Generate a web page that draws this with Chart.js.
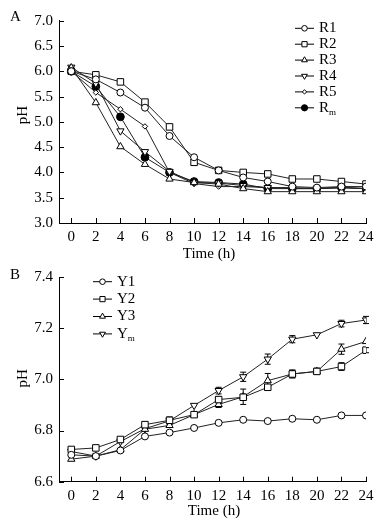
<!DOCTYPE html>
<html><head><meta charset="utf-8">
<script src="https://cdn.jsdelivr.net/npm/chart.js@4/dist/chart.umd.min.js"></script>
<style>
html,body{margin:0;padding:0;background:#fff;width:383px;height:528px;overflow:hidden}
canvas{position:absolute;left:0;display:block}
#ca{top:0}
#cb{top:262px}
</style></head><body>
<canvas id="ca" width="383" height="262"></canvas>
<canvas id="cb" width="383" height="266"></canvas>
<script>
// ---------- data ----------
const timeH = [0,2,4,6,8,10,12,14,16,18,20,22,24];
const xTickVals = [0,2,4,6,8,10,12,14,16,18,20,22,24];
const yTicksA = [3.0,3.5,4.0,4.5,5.0,5.5,6.0,6.5,7.0];
const yTicksB = [6.6,6.8,7.0,7.2,7.4];
const namesA = ['R1','R2','R3','R4','R5','Rm'];
const namesB = ['Y1','Y2','Y3','Ym'];

const R1 = [6.00,5.84,5.58,5.28,4.72,4.30,4.04,3.90,3.82,3.72,3.70,3.72,3.72];
const R2 = [6.00,5.93,5.79,5.39,4.90,4.20,4.04,4.00,3.97,3.87,3.87,3.82,3.77];
const R3 = [6.07,5.38,4.51,4.16,3.87,3.80,3.77,3.68,3.62,3.62,3.62,3.62,3.62];
const R4 = [6.08,5.76,4.82,4.41,4.02,3.80,3.79,3.74,3.70,3.70,3.68,3.70,3.68];
const R5 = [6.00,5.58,5.25,4.91,4.00,3.78,3.72,3.72,3.70,3.68,3.68,3.70,3.68];
const Rm = [6.00,5.70,5.10,4.30,4.00,3.82,3.80,3.77,3.68,3.68,3.68,3.70,3.68];

const Y1 = [6.705,6.700,6.722,6.777,6.792,6.810,6.830,6.842,6.837,6.846,6.842,6.859,6.859];
const Y2 = [6.726,6.732,6.765,6.823,6.840,6.862,6.921,6.930,6.969,7.021,7.031,7.050,7.114];
const Y3 = [6.688,6.700,6.725,6.805,6.820,6.862,6.902,6.932,6.995,7.021,7.031,7.118,7.148];
const Ym = [6.718,6.700,6.757,6.807,6.838,6.898,6.956,7.010,7.079,7.157,7.174,7.218,7.232];
const errY1 = [0,0,0,0,0,0,0,0,0,0,0,0,0];
const errY2 = [0,0,0,0,0.010,0,0.012,0.012,0.010,0.015,0.012,0.015,0.010];
const errY3 = [0,0,0,0,0,0,0.012,0.030,0.028,0.015,0.012,0.020,0];
const errYm = [0,0,0,0,0.015,0,0.013,0.018,0.020,0.014,0,0.013,0.014];

// ---------- helpers ----------
const FONT = '"Liberation Serif", "Times New Roman", serif';
Chart.defaults.font.family = FONT;
Chart.defaults.font.size = 15;
Chart.defaults.color = '#000';

function mark(ctx, style, r, rot, x, y, fill){
  ctx.beginPath();
  if(style==='circle'){ ctx.arc(x,y,r,0,Math.PI*2); }
  else if(style==='rect'){ const s=r*Math.SQRT1_2; ctx.rect(x-s,y-s,2*s,2*s); }
  else if(style==='rectRot'){ ctx.moveTo(x,y-r); ctx.lineTo(x+r,y); ctx.lineTo(x,y+r); ctx.lineTo(x-r,y); ctx.closePath(); }
  else if(style==='triangle'){
    let a = (rot||0)*Math.PI/180;
    ctx.moveTo(x+Math.sin(a)*r, y-Math.cos(a)*r);
    a += 2*Math.PI/3; ctx.lineTo(x+Math.sin(a)*r, y-Math.cos(a)*r);
    a += 2*Math.PI/3; ctx.lineTo(x+Math.sin(a)*r, y-Math.cos(a)*r);
    ctx.closePath();
  }
  ctx.fillStyle = fill; ctx.fill();
  ctx.strokeStyle='#000'; ctx.lineWidth=1; ctx.stroke();
}

function drawName(ctx, name, x, y){
  ctx.textAlign='left'; ctx.textBaseline='middle'; ctx.fillStyle='#000';
  if(name.endsWith('m')){
    const main = name.slice(0,-1);
    ctx.font = '15px '+FONT; ctx.fillText(main, x, y);
    const w = ctx.measureText(main).width;
    ctx.font = '9px '+FONT; ctx.fillText('m', x+w, y+5);
  } else {
    ctx.font = '15px '+FONT; ctx.fillText(name, x, y);
  }
}

const decor = {
  id:'decor',
  beforeDatasetsDraw(chart){
    const o = chart.options.plugins.decor; const ctx = chart.ctx;
    const xs = chart.scales.x, ys = chart.scales.y;
    ctx.save(); ctx.strokeStyle='#000'; ctx.lineWidth=1;
    chart.data.datasets.forEach(ds=>{
      if(!ds.errs) return;
      ds.data.forEach((v,i)=>{
        const e = ds.errs[i]; if(!e) return;
        const px = xs.getPixelForValue(timeH[i]);
        const y1 = ys.getPixelForValue(v-e), y2 = ys.getPixelForValue(v+e);
        ctx.beginPath();
        ctx.moveTo(px,y1); ctx.lineTo(px,y2);
        ctx.moveTo(px-3,y1); ctx.lineTo(px+3,y1);
        ctx.moveTo(px-3,y2); ctx.lineTo(px+3,y2);
        ctx.stroke();
      });
    });
    ctx.restore();
  },
  afterDraw(chart){
    const o = chart.options.plugins.decor; const ctx = chart.ctx;
    const xs = chart.scales.x, ys = chart.scales.y, a = chart.chartArea;
    ctx.save();
    ctx.strokeStyle='#000'; ctx.lineWidth=1; ctx.beginPath();
    xs.ticks.forEach(t=>{ const px=Math.round(xs.getPixelForValue(t.value))+0.5; ctx.moveTo(px,a.bottom); ctx.lineTo(px,a.bottom-5); });
    ys.ticks.forEach(t=>{ const py=Math.round(ys.getPixelForValue(t.value))+0.5; ctx.moveTo(a.left,py); ctx.lineTo(a.left+5,py); });
    ctx.stroke();
    // panel letter
    ctx.fillStyle='#000'; ctx.font='15px '+FONT; ctx.textAlign='left'; ctx.textBaseline='middle';
    ctx.fillText(o.letter, 10, o.letterY);
    // x title
    ctx.textAlign='center';
    ctx.fillText('Time (h)', o.xTitleX, o.xTitleY);
    // y title
    ctx.save(); ctx.translate(23, o.yTitleY); ctx.rotate(-Math.PI/2);
    ctx.fillText('pH', 0, 0); ctx.restore();
    // legend
    chart.data.datasets.forEach((ds,i)=>{
      const y = o.legY + i*o.legStep;
      ctx.beginPath(); ctx.moveTo(o.legX1,y); ctx.lineTo(o.legX2,y); ctx.strokeStyle='#000'; ctx.lineWidth=1; ctx.stroke();
      mark(ctx, ds.pointStyle, ds.pointRadius*0.8, ds.pointRotation||0, (o.legX1+o.legX2)/2, y, ds.pointBackgroundColor);
      drawName(ctx, ds.label, o.legX2+5, y);
    });
    ctx.restore();
  }
};

const styles = {
  circle:{pointStyle:'circle', pointRadius:3.5},
  rect:{pointStyle:'rect', pointRadius:4.6},
  tri:{pointStyle:'triangle', pointRadius:4.2},
  triD:{pointStyle:'triangle', pointRadius:4.2, pointRotation:180},
  dia:{pointStyle:'rectRot', pointRadius:2.7},
  dot:{pointStyle:'circle', pointRadius:3.9}
};
function ds(label, data, st, fill, errs){
  return Object.assign({
    label, data: data.map((v,i)=>({x:timeH[i], y:v})),
    borderColor:'#222', borderWidth:1, pointBorderColor:'#000', pointBorderWidth:1,
    pointBackgroundColor: fill||'#fff', pointHoverRadius:st.pointRadius, fill:false, tension:0,
    errs: errs ? errs.slice() : null
  }, st, {data: data});
}

function makeChart(id, datasets, yTicks, ymin, ymax, chartTop, xAxisH, deco){
  const d = datasets.map(o=>{ const r = ds(o.label, o.data, o.st, o.fill, o.errs); r.data = o.data.map((v,i)=>({x:timeH[i], y:v})); r.rawVals=o.data; return r; });
  // error bars use raw values
  d.forEach(r=>{ r.data.forEach((p)=>{}); });
  return new Chart(document.getElementById(id), {
    type:'line',
    data:{ datasets: d },
    options:{
      responsive:false, animation:false, devicePixelRatio:1,
      layout:{ padding:{ top:chartTop, right:17, left:0, bottom:0 } },
      plugins:{ legend:{display:false}, tooltip:{enabled:false}, decor:deco },
      scales:{
        x:{ type:'linear', min:-1, max:24,
            afterBuildTicks(s){ s.ticks = xTickVals.map(v=>({value:v})); },
            afterFit(s){ s.height = xAxisH; },
            grid:{display:false, drawTicks:false}, border:{display:true, color:'#000', width:1},
            ticks:{ padding:5, autoSkip:false, maxRotation:0, callback:v=>String(v) } },
        y:{ type:'linear', min:ymin, max:ymax,
            afterBuildTicks(s){ s.ticks = yTicks.map(v=>({value:v})); },
            afterFit(s){ s.width = 59; },
            grid:{display:false, drawTicks:false}, border:{display:true, color:'#000', width:1},
            ticks:{ padding:6, autoSkip:false, callback:v=>Number(v).toFixed(1) } }
      }
    },
    plugins:[decor]
  });
}

// errors plugin reads ds.data as values -> adapt
decor.beforeDatasetsDraw = function(chart){
  const ctx = chart.ctx, xs = chart.scales.x, ys = chart.scales.y;
  ctx.save(); ctx.strokeStyle='#000'; ctx.lineWidth=1;
  chart.data.datasets.forEach(d=>{
    if(!d.errs) return;
    d.rawVals.forEach((v,i)=>{
      const e = d.errs[i]; if(!e) return;
      const px = xs.getPixelForValue(timeH[i]);
      const y1 = ys.getPixelForValue(v-e), y2 = ys.getPixelForValue(v+e);
      ctx.beginPath();
      ctx.moveTo(px,y1); ctx.lineTo(px,y2);
      ctx.moveTo(px-3,y1); ctx.lineTo(px+3,y1);
      ctx.moveTo(px-3,y2); ctx.lineTo(px+3,y2);
      ctx.stroke();
    });
  });
  ctx.restore();
};

makeChart('ca', [
  {label:namesA[0], data:R1, st:styles.circle},
  {label:namesA[1], data:R2, st:styles.rect},
  {label:namesA[2], data:R3, st:styles.tri},
  {label:namesA[3], data:R4, st:styles.triD},
  {label:namesA[4], data:R5, st:styles.dia},
  {label:namesA[5], data:Rm, st:styles.dot, fill:'#000'}
], yTicksA, 3.0, 7.0, 20.7, 39, {
  letter:'A', letterY:17, xTitleX:209, xTitleY:254, yTitleY:115,
  legX1:295, legX2:314, legY:28.3, legStep:15.9
});

makeChart('cb', [
  {label:namesB[0], data:Y1, st:styles.circle, errs:errY1},
  {label:namesB[1], data:Y2, st:styles.rect, errs:errY2},
  {label:namesB[2], data:Y3, st:styles.tri, errs:errY3},
  {label:namesB[3], data:Ym, st:styles.triD, errs:errYm}
], yTicksB, 6.6, 7.4, 13.7, 46.3, {
  letter:'B', letterY:13, xTitleX:214, xTitleY:249.5, yTitleY:116.3,
  legX1:93, legX2:112, legY:19.7, legStep:17.4
});
</script>
</body></html>
